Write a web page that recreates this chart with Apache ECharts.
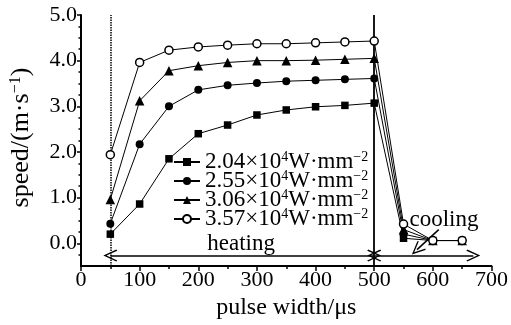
<!DOCTYPE html>
<html><head><meta charset="utf-8">
<script src="https://cdn.jsdelivr.net/npm/echarts@6/dist/echarts.min.js"></script>
<style>html,body{margin:0;padding:0;background:#fff}#c{width:511px;height:325px}</style>
</head><body><div id="c"></div>
<script>
// ---- data ----
const pulseWidth = [50,100,150,200,250,300,350,400,450,500,550,600,650];
const s204 = [0.20,0.86,1.85,2.40,2.59,2.81,2.92,2.99,3.02,3.07,0.11,0.06,0.06];
const s255 = [0.43,2.17,3.00,3.36,3.46,3.51,3.55,3.57,3.59,3.61,0.20,0.06,0.06];
const s306 = [0.96,3.12,3.78,3.89,3.96,4.00,4.00,4.01,4.03,4.05,0.30,0.06,0.06];
const s357 = [1.94,3.96,4.23,4.30,4.34,4.37,4.37,4.39,4.41,4.43,0.42,0.06,0.06];
const seriesNames = ['2.04','2.55','3.06','3.57'];
const yMajorTicks = [0,1,2,3,4,5];
const yMinorTicks = [-0.25,0.25,0.5,0.75,1.25,1.5,1.75,2.25,2.5,2.75,3.25,3.5,3.75,4.25,4.5,4.75];
const heatingArrow = [[50,-0.27],[500,-0.27]];
const coolingArrow = [[500,-0.27],[669,-0.27]];
const coolingPointer = [[610,0.30],[573,-0.14]];
const heatingLabel = [273,-0.02];
const coolingLabel = [619,0.52];
const dividers = [50,500];

const FONT = '"Liberation Serif","Times New Roman",serif';
const chev = 'path://M0,0 L9,13 L7.4,14 L0,3.2 L-7.4,14 L-9,13 Z';
const chart = echarts.init(document.getElementById('c'), null, {renderer:'canvas'});
const mk = (arr)=>pulseWidth.map((x,i)=>[x,arr[i]]);
const symbols = ['rect','circle','triangle','circle'];
const sizes = [7.5,8,9.5,8];
const datas = [s204,s255,s306,s357];
const series = datas.map((d,i)=>({
  name: seriesNames[i], type:'line', data: mk(d), symbol: symbols[i], symbolSize: sizes[i],
  showSymbol:true, z: 3+i,
  lineStyle:{color:'#000',width:1},
  itemStyle:{color: i===3 ? '#fff' : '#000', borderColor:'#000', borderWidth: i===3 ? 1.5 : 0},
  emphasis:{disabled:true}, animation:false
}));
// annotations series
series.push({
  type:'line', data:[], silent:true, animation:false,
  markLine:{
    silent:true, animation:false, label:{show:false},
    symbol:['none','none'],
    data:[
      [{coord:heatingArrow[0],symbol:chev},{coord:heatingArrow[1],symbol:chev}],
      [{coord:coolingArrow[0],symbol:chev},{coord:coolingArrow[1],symbol:chev}],
      [{coord:coolingPointer[0],symbol:'none'},{coord:coolingPointer[1],symbol:chev}],
      {xAxis:dividers[0], lineStyle:{type:[1.5,1],width:1.5}},
      {xAxis:dividers[1], lineStyle:{type:'solid',width:1.8}}
    ],
    symbolSize:[12,14],
    lineStyle:{color:'#000',width:1.5,type:'solid'}
  },
  markPoint:{
    silent:true, animation:false, symbol:'rect', symbolSize:1, itemStyle:{color:'rgba(0,0,0,0)'},
    data:[
      {coord:heatingLabel, label:{show:true, formatter:'heating', color:'#000', fontFamily:FONT, fontSize:23}},
      {coord:coolingLabel, label:{show:true, formatter:'cooling', color:'#000', fontFamily:FONT, fontSize:23}}
    ]
  }
});
const fmtName = n => '{n|'+n+'×10}{s|4}{n|W·mm}{s|−2}';
chart.setOption({
  animation:false,
  backgroundColor:'#fff',
  grid:{left:80,right:18,top:15,bottom:55,containLabel:false},
  legend:{
    data: seriesNames, orient:'vertical', left:168, top:145, itemGap:-5,
    itemWidth:26, itemHeight:10, selectedMode:false,
    formatter: fmtName,
    textStyle:{color:'#000', fontFamily:FONT, fontSize:23, lineHeight:19,
      rich:{n:{fontFamily:FONT,fontSize:23,color:'#000',lineHeight:19},
            s:{fontFamily:FONT,fontSize:14,color:'#000',lineHeight:19,padding:[0,0,10,0]}}}
  },
  xAxis:{
    type:'value', min:0, max:700, interval:100,
    name:'pulse width/μs', nameLocation:'middle', nameGap:26,
    nameTextStyle:{fontFamily:FONT,fontSize:24,color:'#000'},
    axisLine:{show:true,onZero:false,lineStyle:{color:'#000',width:2}},
    axisTick:{show:true,inside:false,length:5,lineStyle:{color:'#000',width:1.5}},
    minorTick:{show:true,splitNumber:2,length:3,lineStyle:{color:'#000',width:1.5}},
    axisLabel:{fontFamily:FONT,fontSize:22,color:'#000',margin:3},
    splitLine:{show:false}
  },
  yAxis:[{
    type:'value', min:-0.5, max:5, 
    name:'{n|speed/(m·s}{s|−1}{n|)}', nameLocation:'middle', nameGap:46, nameRotate:90,
    nameTextStyle:{fontFamily:FONT,fontSize:26,color:'#000',padding:[0,0,0,6],
      rich:{n:{fontFamily:FONT,fontSize:26,color:'#000'},s:{fontFamily:FONT,fontSize:16,color:'#000',padding:[0,0,11,0]}}},
    axisLine:{show:true,onZero:false,lineStyle:{color:'#000',width:2}},
    axisTick:{show:true,length:4,customValues:yMajorTicks,lineStyle:{color:'#000',width:1.5}},
    axisLabel:{fontFamily:FONT,fontSize:22,color:'#000',margin:4,customValues:yMajorTicks,
      formatter:v=>v.toFixed(1)},
    splitLine:{show:false}
  },{
    type:'value', min:-0.5, max:5, position:'left',
    axisLine:{show:false},
    axisTick:{show:true,length:2.5,customValues:yMinorTicks,lineStyle:{color:'#000',width:1.5}},
    axisLabel:{show:false},
    splitLine:{show:false}
  }],
  series: series
});
</script></body></html>
